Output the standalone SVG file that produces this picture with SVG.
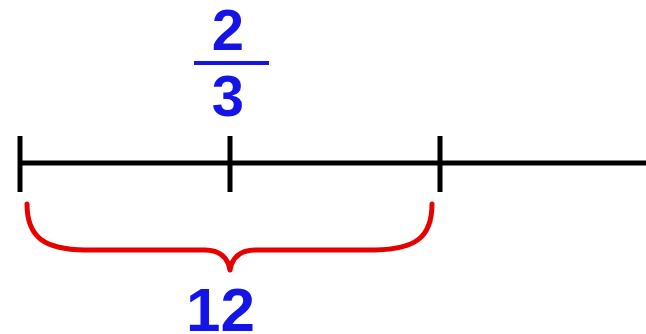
<svg xmlns="http://www.w3.org/2000/svg" width="646" height="334" viewBox="0 0 646 334">
<style>
.ax{stroke:#000;stroke-width:5;fill:none}
.num{font-family:"Liberation Sans",Arial,sans-serif;font-weight:bold;fill:#1414e6}
.brace{stroke:#e60000;stroke-width:5;fill:none;stroke-linecap:round;stroke-linejoin:round}
</style>
<rect width="646" height="334" fill="#fff"/>
<g id="connectors">
<line class="ax" x1="18" y1="163" x2="646" y2="163"/>
</g>
<g id="tick0"><line class="ax" x1="20" y1="136" x2="20" y2="192"/></g>
<g id="tick1"><line class="ax" x1="230" y1="136" x2="230" y2="192"/></g>
<g id="tick2"><line class="ax" x1="440" y1="136" x2="440" y2="192"/></g>
<g id="fraction">
<text class="num" x="228" y="50" font-size="58" text-anchor="middle">2</text>
<line x1="194" y1="63" x2="269" y2="63" stroke="#1414e6" stroke-width="4"/>
<text class="num" x="228" y="116" font-size="58" text-anchor="middle">3</text>
</g>
<g id="brace">
<path class="brace" d="M27,204 C27,238 45,249 85,250 L205,250 C220,250 228,258 230,270 C232,258 240,250 255,250 L375,250 C415,249 432,238 432,204"/>
</g>
<g id="label12">
<text class="num" x="186" y="331" font-size="62">12</text>
</g>
</svg>
